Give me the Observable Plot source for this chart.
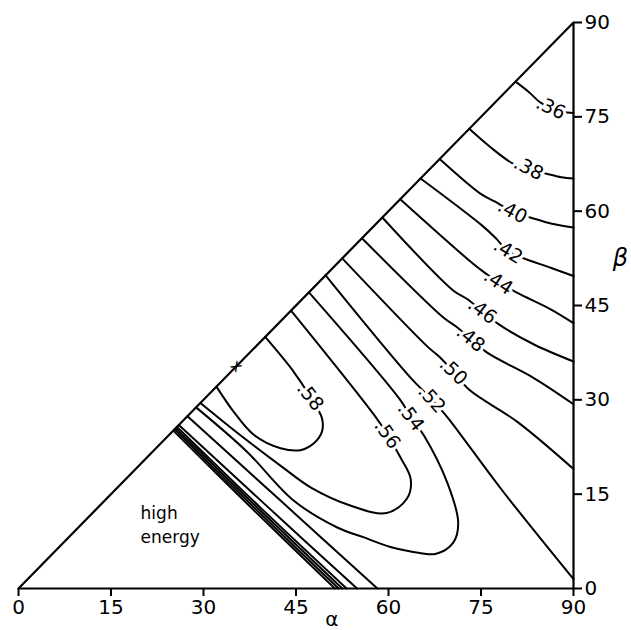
<!DOCTYPE html>
<html><head><meta charset="utf-8">
<script src="https://cdn.jsdelivr.net/npm/d3@7"></script>
<script src="https://cdn.jsdelivr.net/npm/@observablehq/plot@0.6"></script>
<style>
body{margin:0;background:#fff}
#chart svg{display:block;background:#fff}
</style>
</head><body><div id="chart"></div>
<script>
// axis ticks (degrees)
const alphaTicks = [0, 15, 30, 45, 60, 75, 90];
const betaTicks = [0, 15, 30, 45, 60, 75, 90];
// domain boundary: beta <= alpha
const triangle = [[0, 0], [90, 0], [90, 90], [0, 0]];

// contour lines, as [alpha, beta] pairs
const c36 = [[80.6,80.6],[82.7,79.0],[84.6,77.3],[86.3,76.4],[88.2,75.8],[90,75.6]];
const c38 = [[73.1,73.1],[76.5,70.2],[80.1,67.6],[82.7,66.6],[85.5,66.0],[88,65.4],[90,65.2]];
const c40 = [[68.3,68.3],[74.9,62.8],[77.3,61.5],[80.1,59.9],[83.0,59.0],[86.5,58.0],[90,57.4]];
const c42 = [[65.2,65.2],[75.2,57.7],[77.5,55.6],[79.4,53.6],[81.7,52.6],[86.3,51.0],[90,49.7]];
const c44 = [[61.9,61.9],[72.8,52.4],[75.2,50.5],[77.8,48.7],[80.9,47.0],[86.3,44.4],[90,42.2]];
const c46 = [[59.0,59.0],[70.6,47.3],[72.8,46.0],[75.2,44.1],[77.9,42.0],[83.6,38.8],[90,36.1]];
const c48 = [[55.7,55.7],[69.0,43.0],[70.9,41.7],[73.3,39.7],[76.0,37.5],[83.5,33.5],[90,29.3]];
const c50 = [[52.5,52.5],[66.5,38.3],[68.2,36.9],[70.5,34.5],[73.1,31.6],[80.9,26.5],[90,19.0]];
const c52 = [[49.8,49.8],[63.6,33.5],[67.0,30.1],[69.5,27.3],[78.2,15.9],[90,1.5]];
const c54 = [[47.1,47.1],[61.9,30.0],[63.6,27.3],[65.7,24.4],[69.5,16.9],[71.3,10.5],[70.5,7.3],[67.6,5.5],[63.6,5.9],[60.3,6.6],[55.8,8.2],[51.7,9.7],[44.6,14.0],[37.0,21.8],[28.8,28.8]];
const c56 = [[44.2,44.2],[57.9,27.3],[59.8,24.5],[61.9,20.9],[63.6,17.4],[63.0,14.3],[59.7,12.0],[53.8,13.2],[47.5,16.0],[42.8,19.3],[36.2,24.2],[29.5,29.5]];
const c58 = [[40.0,40.0],[44.6,34.5],[47.3,30.5],[49.2,27.1],[49.2,24.9],[47.9,23.1],[45.7,22.0],[42.5,22.3],[38.2,24.4],[34.9,28.1],[32.1,32.1]];
// steep contours toward the high-energy corner
const c52low = [[27.4,27.4],[42.8,13.7],[58.2,0]];
const c50low = [[26.0,26.0],[40.5,12.9],[54.9,0]];
const c48low = [[25.7,25.7],[39.4,12.7],[53.2,0]];
const c46low = [[25.5,25.5],[39.0,12.6],[52.5,0]];
const c44low = [[25.3,25.3],[38.6,12.5],[51.9,0]];
const c42low = [[25.1,25.1],[38.2,12.4],[51.3,0]];

// contour labels
const labelText  = [".36", ".38", ".40", ".42", ".44", ".46", ".48", ".50", ".52", ".54", ".56", ".58"];
const labelAlpha = [86.3, 82.7, 80.1, 79.4, 77.8, 75.2, 73.3, 70.5, 67.0, 63.6, 59.8, 47.3];
const labelBeta  = [76.4, 66.8, 59.9, 53.6, 48.7, 44.1, 39.7, 34.5, 30.1, 27.3, 24.5, 30.5];
const labelAngle = [25, 27, 28, 31, 33, 37, 39, 44, 48, 53, 55, 52];
// maximum marker
const maxPoint = [[35.4, 35.4]];

const series = {
  "36": c36, "38": c38, "40": c40, "42": c42, "44": c44, "46": c46, "48": c48,
  "50": c50, "52": c52, "54": c54, "56": c56, "58": c58,
  "52low": c52low, "50low": c50low, "48low": c48low, "46low": c46low, "44low": c44low, "42low": c42low
};
const rows = Object.entries(series).flatMap(([id, pts]) => pts.map(([a, b]) => ({id, a, b})));
const labels = labelText.map((t, i) => ({t, a: labelAlpha[i], b: labelBeta[i], r: labelAngle[i]}));

const font = "DejaVu Sans, sans-serif";
const chart = Plot.plot({
  width: 631,
  height: 630,
  marginLeft: 18,
  marginRight: 58,
  marginTop: 22,
  marginBottom: 42,
  x: {domain: [0, 90]},
  y: {domain: [0, 90]},
  style: {fontFamily: font, fontSize: "20px", color: "black", background: "white"},
  marks: [
    Plot.line(triangle, {x: d => d[0], y: d => d[1], stroke: "black", strokeWidth: 2.2}),
    Plot.line(rows, {x: "a", y: "b", z: "id", curve: "catmull-rom", stroke: "black", strokeWidth: 2}),
    Plot.text(labels, {x: "a", y: "b", text: "t", rotate: "r", fontSize: 19, fontFamily: font,
      fill: "black", stroke: "white", strokeWidth: 6}),
    Plot.text(maxPoint, {x: d => d[0], y: d => d[1], text: ["x"], rotate: 45, fontSize: 16, fontFamily: font,
      fill: "black"}),
    Plot.text(["high"], {x: 19.8, y: 11.0, textAnchor: "start", lineAnchor: "bottom", fontSize: 17,
      fontFamily: font, letterSpacing: 1.5}),
    Plot.text(["energy"], {x: 19.8, y: 7.3, textAnchor: "start", lineAnchor: "bottom", fontSize: 17,
      fontFamily: font, letterSpacing: 1.5}),
    Plot.axisX({ticks: alphaTicks, tickSize: 8, tickPadding: 3, strokeWidth: 2, label: null, fontSize: 20}),
    Plot.axisY({anchor: "right", ticks: betaTicks, tickSize: 8, tickPadding: 3, strokeWidth: 2, label: null, fontSize: 20}),
    Plot.text(["α"], {x: 50.8, y: 0, dy: 31, fontSize: 20, fontFamily: font}),
    Plot.text(["β"], {x: 90, y: 52.5, dx: 47, fontSize: 24, fontStyle: "italic", fontFamily: font})
  ]
});
document.getElementById("chart").append(chart);
</script>
</body></html>
